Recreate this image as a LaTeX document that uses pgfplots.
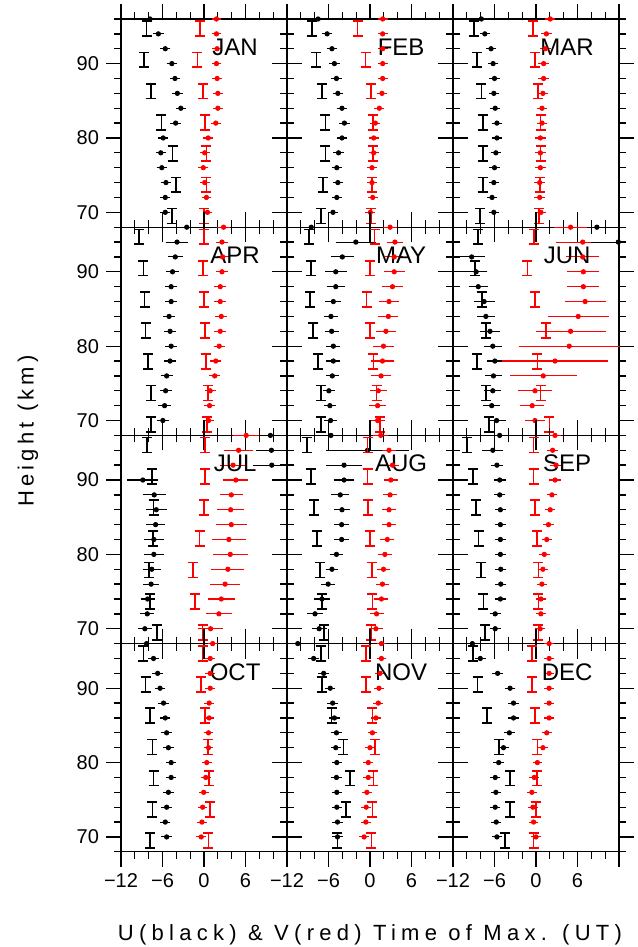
\documentclass[border=0pt]{standalone}
\usepackage{fontspec}
\setmainfont{Liberation Sans}
\usepackage{pgfplots}
\usepackage{pgfplotstable}
\pgfplotsset{compat=1.18}

% z = height (km), u/eu = U time of max and error, v/ev = V time of max and error
\pgfplotstableread{
z u eu v ev
96 -7.8 0.3 1.8 0.3
94 -6.6 0.35 1.8 0.3
92 -5.6 0.35 1.9 0.3
90 -4.65 0.35 1.8 0.3
88 -4.2 0.35 1.9 0.3
86 -3.85 0.35 2.0 0.3
84 -3.35 0.35 2.0 0.3
82 -4.1 0.35 1.7 0.3
80 -5.9 0.35 0.6 0.3
78 -6.25 0.35 0.1 0.3
76 -6.1 0.35 -0.1 0.3
74 -5.5 0.35 0.1 0.3
72 -5.6 0.35 0.35 0.3
70 -5.6 0.35 0.5 0.3
}\janP
\pgfplotstableread{
z u v
94.7 -8.3 -0.55
90.5 -8.65 -0.95
86.3 -7.7 -0.1
82.1 -6.15 0.15
77.9 -4.55 0.35
73.7 -4.0 0.35
69.5 -4.65 0.0
}\janB
\pgfplotstableread{
z u eu v ev
96 -7.5 0.3 1.83 0.3
94 -6.2 0.35 1.83 0.3
92 -5.5 0.35 1.83 0.3
90 -5.15 0.35 1.83 0.3
88 -4.85 0.35 1.83 0.3
86 -4.65 0.35 1.73 0.3
84 -4.05 0.35 1.35 0.3
82 -3.7 0.35 0.77 0.3
80 -4.05 0.35 0.53 0.3
78 -4.55 0.35 0.53 0.3
76 -4.8 0.35 0.29 0.3
74 -4.65 0.35 0.29 0.3
72 -4.8 0.35 0.39 0.3
70 -5.35 0.35 0.05 0.3
}\febP
\pgfplotstableread{
z u v
94.7 -8.4 -1.8
90.5 -7.75 -0.65
86.3 -6.95 0.15
82.1 -6.45 0.45
77.9 -6.45 0.45
73.7 -6.8 0.3
69.5 -7.1 0.15
}\febB
\pgfplotstableread{
z u eu v ev
96 -7.9 0.3 2.07 0.3
94 -7.4 0.35 1.5 0.35
92 -6.5 0.35 1.35 0.35
90 -6.2 0.35 1.1 0.35
88 -6.0 0.35 1.1 0.35
86 -6.1 0.35 1.0 0.35
84 -5.9 0.35 0.87 0.35
82 -5.65 0.35 0.87 0.35
80 -5.65 0.35 0.63 0.35
78 -5.8 0.35 0.63 0.35
76 -6.0 0.35 0.63 0.35
74 -6.1 0.35 0.53 0.35
72 -6.35 0.35 0.53 0.35
70 -6.1 0.35 0.72 0.35
}\marP
\pgfplotstableread{
z u v
94.7 -9.0 -0.45
90.5 -8.55 -0.1
86.3 -7.9 0.25
82.1 -7.7 0.65
77.9 -7.7 0.65
73.7 -7.7 0.55
69.5 -8.05 0.4
}\marB
\pgfplotstableread{
z u eu v ev
96 -2.5 0.6 2.83 0.5
94 -3.9 1.2 2.6 0.5
92 -4.15 0.7 2.7 0.45
90 -4.55 0.5 2.6 0.45
88 -4.75 0.45 2.35 0.45
86 -4.75 0.45 2.35 0.45
84 -5.05 0.45 2.5 0.45
82 -4.9 0.45 2.35 0.45
80 -4.75 0.45 2.2 0.4
78 -4.9 0.45 1.7 0.4
76 -5.4 0.45 1.55 0.4
74 -5.55 0.45 0.9 0.4
72 -5.7 0.5 0.8 0.4
70 -5.95 0.5 0.65 0.4
}\aprP
\pgfplotstableread{
z u v
94.7 -9.4 -0.05
90.5 -8.75 -0.15
86.3 -8.6 -0.05
82.1 -8.45 0.1
77.9 -8.05 0.25
73.7 -7.65 0.55
69.5 -7.65 0.4
}\aprB
\pgfplotstableread{
z u eu v ev
96 -8.5 0.7 2.9 0.6
94 -2.05 2.5 3.6 0.8
92 -4.0 1.3 3.5 0.9
90 -4.95 1.15 3.5 1.1
88 -4.95 0.9 3.25 1.1
86 -5.3 0.75 2.75 1.0
84 -5.65 0.6 2.65 1.05
82 -5.55 0.6 2.3 1.0
80 -5.3 0.6 1.95 1.1
78 -5.3 0.6 1.8 1.3
76 -5.45 0.5 1.6 1.1
74 -5.95 0.5 1.2 0.85
72 -5.8 0.5 1.1 0.8
70 -5.7 0.5 1.1 0.7
}\mayP
\pgfplotstableread{
z u v
94.7 -8.8 0.65
90.5 -8.55 0.0
86.3 -8.65 -0.5
82.1 -8.2 0.0
77.9 -7.55 0.5
73.7 -7.1 0.95
69.5 -7.1 1.45
}\mayB
\pgfplotstableread{
z u eu v ev
96 8.8 1.5 5.0 2.0
94 nan 0 6.75 3.5
92 -9.3 1.5 6.75 2.0
90 -8.65 1.2 6.85 1.9
88 -8.35 1.0 6.85 1.9
86 -7.5 1.1 7.1 2.55
84 -7.25 0.85 6.1 4.0
82 -6.65 1.0 5.0 4.65
80 -6.25 0.9 4.8 6.9
78 -5.95 0.8 2.75 7.2
76 -6.15 0.8 1.05 4.4
74 -6.25 0.8 -0.15 2.0
72 -6.4 0.8 -0.55 1.3
70 -5.7 0.9 -0.15 1.0
}\junP
\pgfplotstableread{
z u v
94.7 -8.35 -0.3
90.5 -8.8 -1.25
86.3 -7.85 -0.15
82.1 -7.25 1.4
77.9 -8.5 0.2
73.7 -7.25 0.65
69.5 -6.75 1.95
}\junB
\pgfplotstableread{
z u eu v ev
96 9.6 1.8 6.1 1.5
94 9.75 1.85 5.0 1.75
92 9.8 2.3 4.2 1.5
90 -8.85 1.85 4.6 1.4
88 -7.2 1.25 3.95 1.3
86 -6.9 1.1 3.85 1.5
84 -7.0 1.0 3.95 1.8
82 -7.25 1.0 3.6 2.0
80 -7.25 1.0 3.8 2.1
78 -7.55 0.9 3.45 2.0
76 -7.65 0.7 3.05 1.8
74 -8.15 0.6 2.5 1.55
72 -8.2 0.6 2.15 1.45
70 -8.55 0.6 0.95 1.45
}\julP
\pgfplotstableread{
z u v
94.7 -8.25 0.15
90.5 -7.55 0.1
86.3 -7.3 0.0
82.1 -7.4 -0.65
77.9 -8.0 -1.6
73.7 -7.8 -1.3
69.5 -6.8 -0.2
}\julB
\pgfplotstableread{
z u eu v ev
96 -5.65 1.0 1.55 0.7
94 -0.35 5.6 2.75 0.6
92 -3.75 2.2 3.25 0.6
90 -3.75 1.1 3.0 0.6
88 -4.3 0.9 2.9 0.6
86 -4.05 0.7 2.75 0.6
84 -4.1 0.7 2.75 0.6
82 -4.1 0.7 2.5 0.6
80 -4.85 0.6 2.15 0.6
78 -5.5 0.5 1.95 0.6
76 -6.05 0.6 1.8 0.6
74 -6.95 0.7 1.65 0.6
72 -7.95 0.7 0.95 0.6
70 -7.35 0.7 0.85 0.6
}\augP
\pgfplotstableread{
z u v
94.7 -9.1 -0.35
90.5 -8.55 -0.35
86.3 -8.05 -0.25
82.1 -7.65 0.0
77.9 -7.2 0.25
73.7 -6.95 0.35
69.5 -6.7 0.2
}\augB
\pgfplotstableread{
z u eu v ev
96 -5.25 0.4 2.75 0.4
94 -6.25 1.1 2.4 0.4
92 -5.65 0.5 2.9 0.4
90 -5.25 0.45 2.75 0.4
88 -5.25 0.4 2.3 0.35
86 -5.15 0.4 2.05 0.35
84 -5.15 0.4 1.8 0.35
82 -5.15 0.4 1.55 0.35
80 -5.15 0.4 1.2 0.35
78 -5.1 0.4 1.0 0.35
76 -5.1 0.4 0.85 0.35
74 -5.15 0.4 0.7 0.35
72 -5.9 0.4 0.7 0.35
70 -5.9 0.4 0.6 0.35
}\sepP
\pgfplotstableread{
z u v
94.7 -10.0 -0.35
90.5 -9.1 -0.35
86.3 -8.65 -0.15
82.1 -8.3 0.1
77.9 -7.95 0.35
73.7 -7.6 0.35
69.5 -7.35 0.35
}\sepB
\pgfplotstableread{
z u eu v ev
96 -8.3 0.8 1.25 0.3
94 -7.3 0.35 0.9 0.3
92 -6.7 0.35 0.9 0.3
90 -6.35 0.35 0.9 0.3
88 -5.85 0.35 0.75 0.3
86 -5.6 0.35 0.75 0.3
84 -5.4 0.35 0.65 0.3
82 -5.15 0.35 0.65 0.3
80 -4.75 0.35 0.4 0.3
78 -4.75 0.35 0.25 0.3
76 -5.15 0.35 -0.05 0.3
74 -5.4 0.35 -0.2 0.3
72 -5.6 0.35 -0.3 0.3
70 -5.4 0.35 -0.4 0.3
}\octP
\pgfplotstableread{
z u v
94.7 -8.75 -0.2
90.5 -8.45 -0.4
86.3 -7.8 0.1
82.1 -7.45 0.55
77.9 -7.3 0.75
73.7 -7.45 0.9
69.5 -7.8 0.65
}\octB
\pgfplotstableread{
z u eu v ev
96 -10.45 0.4 1.65 0.3
94 -8.15 0.4 1.65 0.3
92 -6.7 0.35 1.45 0.3
90 -5.75 0.35 1.3 0.3
88 -5.4 0.35 1.2 0.3
86 -5.15 0.35 0.85 0.3
84 -4.85 0.35 0.35 0.3
82 -4.95 0.35 0.0 0.3
80 -4.8 0.35 -0.25 0.3
78 -4.85 0.35 -0.25 0.3
76 -4.8 0.35 -0.45 0.3
74 -4.8 0.35 -0.55 0.3
72 -4.7 0.35 -0.6 0.3
70 -4.7 0.35 -0.85 0.35
}\novP
\pgfplotstableread{
z u v
94.7 -7.1 -0.6
90.5 -6.95 -0.6
86.3 -5.55 0.35
82.1 -3.85 0.7
77.9 -2.85 0.5
73.7 -3.5 0.35
69.5 -4.7 0.2
}\novB
\pgfplotstableread{
z u eu v ev
96 -9.2 0.4 1.9 0.3
94 -8.05 0.4 1.9 0.3
92 -5.55 0.35 1.9 0.3
90 -3.75 0.35 1.9 0.3
88 -3.25 0.35 1.9 0.3
86 -3.25 0.35 1.9 0.3
84 -3.85 0.35 1.55 0.3
82 -4.7 0.35 1.0 0.3
80 -5.4 0.35 0.2 0.3
78 -5.9 0.35 -0.25 0.3
76 -5.8 0.35 -0.6 0.3
74 -5.9 0.35 -0.45 0.3
72 -5.75 0.35 -0.35 0.3
70 -5.65 0.35 0.0 0.3
}\decP
\pgfplotstableread{
z u v
94.7 -9.1 -0.6
90.5 -8.45 -0.6
86.3 -7.1 -0.15
82.1 -5.4 0.2
77.9 -3.75 0.1
73.7 -3.75 0.0
69.5 -4.45 -0.35
}\decB

% "I" symbol spanning +-1 km (1 km = 104.1pt/28)
\pgfdeclareplotmark{Ibar}{%
  \pgfpathmoveto{\pgfqpoint{0pt}{-3.72pt}}\pgfpathlineto{\pgfqpoint{0pt}{3.72pt}}%
  \pgfpathmoveto{\pgfqpoint{-2.5pt}{3.72pt}}\pgfpathlineto{\pgfqpoint{2.5pt}{3.72pt}}%
  \pgfpathmoveto{\pgfqpoint{-2.5pt}{-3.72pt}}\pgfpathlineto{\pgfqpoint{2.5pt}{-3.72pt}}%
  \pgfusepathqstroke}

\pgfplotsset{
  panel/.style={
    width=83pt, height=104.1pt, scale only axis, anchor=north west,
    xmin=-12, xmax=12, ymin=68, ymax=96, clip=false,
    xtick={-12,-6,0,6,12}, minor xtick={-10,-8,-4,-2,2,4,8,10},
    ytick={70,80,90}, minor ytick={68,72,74,76,78,82,84,86,88,92,94,96},
    xticklabels=\empty, yticklabels=\empty,
    tick align=outside, major tick length=7.5pt, minor tick length=3.5pt,
    axis line style={line width=0.65pt},
    every tick/.style={black, line width=0.65pt},
    tick label style={font=\fontsize{10}{12}\selectfont},
  },
  leftcol/.style={yticklabels={70,80,90}},
  botrow/.style={xticklabels={−12,−6,0,6,{}}},
  pts/.style={only marks, mark=*, mark size=1.1pt,
    error bars/.cd, x dir=both, x explicit,
    error bar style={line width=0.55pt},
    error mark options={mark size=1.4pt, line width=0.55pt}},
  ibar/.style={only marks, mark=Ibar, mark options={line width=0.85pt}},
}

% #1 column, #2 row, #3 points, #4 I-bars, #5 month, #6 axis options, #7 extra plots
\newcommand{\panel}[7]{%
\begin{axis}[panel, at={(#1*83pt,-#2*104.1pt)}, #6]
  \addplot[black, pts] table[x=u, y=z, x error=eu] {#3};
  \addplot[red, pts] table[x=v, y=z, x error=ev] {#3};
  \addplot[black, ibar] table[x=u, y=z] {#4};
  \addplot[red, ibar] table[x=v, y=z] {#4};
  #7
  \node[font=\fontsize{12}{14}\selectfont] at (axis cs:4.5,92.2) {#5};
\end{axis}}

\begin{document}
\begin{tikzpicture}
\path[use as bounding box] (-60.5pt,9.5pt) rectangle (258pt,-464pt);
\panel{0}{0}{\janP}{\janB}{JAN}{leftcol}{}
\panel{1}{0}{\febP}{\febB}{FEB}{}{}
\panel{2}{0}{\marP}{\marB}{MAR}{}{}
\panel{0}{1}{\aprP}{\aprB}{APR}{leftcol}{}
\panel{1}{1}{\mayP}{\mayB}{MAY}{}{}
\panel{2}{1}{\junP}{\junB}{JUN}{}{%
  \addplot[black, pts] coordinates {(11.9,94) += (0.05,0) -= (3.6,0)};}
\panel{0}{2}{\julP}{\julB}{JUL}{leftcol}{}
\panel{1}{2}{\augP}{\augB}{AUG}{}{}
\panel{2}{2}{\sepP}{\sepB}{SEP}{}{}
\panel{0}{3}{\octP}{\octB}{OCT}{leftcol,botrow}{}
\panel{1}{3}{\novP}{\novB}{NOV}{botrow}{}
\panel{2}{3}{\decP}{\decB}{DEC}{botrow}{}
\node[rotate=90, font=\fontsize{11}{13}\selectfont\addfontfeatures{LetterSpace=19}]
  at (-46.5pt,-206pt) {Height (km)};
\node[anchor=base, font=\fontsize{11}{13}\selectfont\addfontfeatures{LetterSpace=24}]
  at (124.5pt,-460.5pt) {U(black) \& V(red) Time of Max. (UT)};
\end{tikzpicture}
\end{document}
